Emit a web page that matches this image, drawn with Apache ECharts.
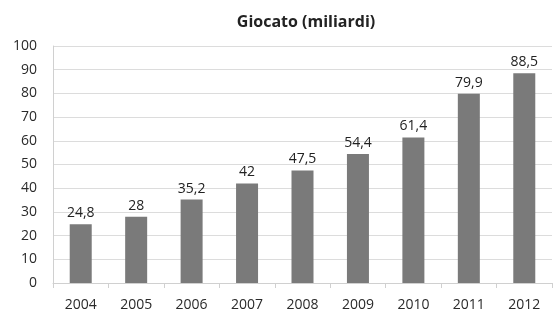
<!DOCTYPE html>
<html><head><meta charset="utf-8">
<script src="https://cdn.jsdelivr.net/npm/echarts@6/dist/echarts.min.js"></script>
<style>html,body{margin:0;padding:0;background:#fff}#c{width:558px;height:318px}</style>
</head><body><div id="c"></div>
<script>
const categories = ['2004','2005','2006','2007','2008','2009','2010','2011','2012'];
const values = [24.8, 28, 35.2, 42, 47.5, 54.4, 61.4, 79.9, 88.5];
const titleText = 'Giocato (miliardi)';
const font = 'Open Sans';
const chart = echarts.init(document.getElementById('c'));
chart.setOption({
  animation: false,
  title: {text: titleText, left: 301, top: 9, textAlign: 'center',
    textStyle: {fontFamily: font, fontSize: 16, fontWeight: 'bold', color: '#222'}},
  grid: {left: 53, right: 6, top: 46, bottom: 35},
  xAxis: {type: 'category', data: categories,
    axisLine: {lineStyle: {color: '#d0d0d0'}},
    axisTick: {show: true, length: 5, lineStyle: {color: '#d0d0d0'}},
    axisLabel: {fontFamily: font, fontSize: 14, color: '#2a2a2a', margin: 15}},
  yAxis: {type: 'value', min: 0, max: 100, interval: 10,
    axisLine: {show: true, lineStyle: {color: '#d0d0d0'}},
    axisTick: {show: false},
    splitLine: {lineStyle: {color: '#dcdcdc'}},
    axisLabel: {fontFamily: font, fontSize: 14, color: '#2a2a2a', margin: 16}},
  series: [{type: 'bar', data: values, barWidth: 22,
    itemStyle: {color: '#7a7a7a'},
    label: {show: true, position: 'top', distance: 4, fontFamily: font, fontSize: 14, color: '#222',
      formatter: p => String(p.value).replace('.', ',')}}]
});
</script></body></html>
